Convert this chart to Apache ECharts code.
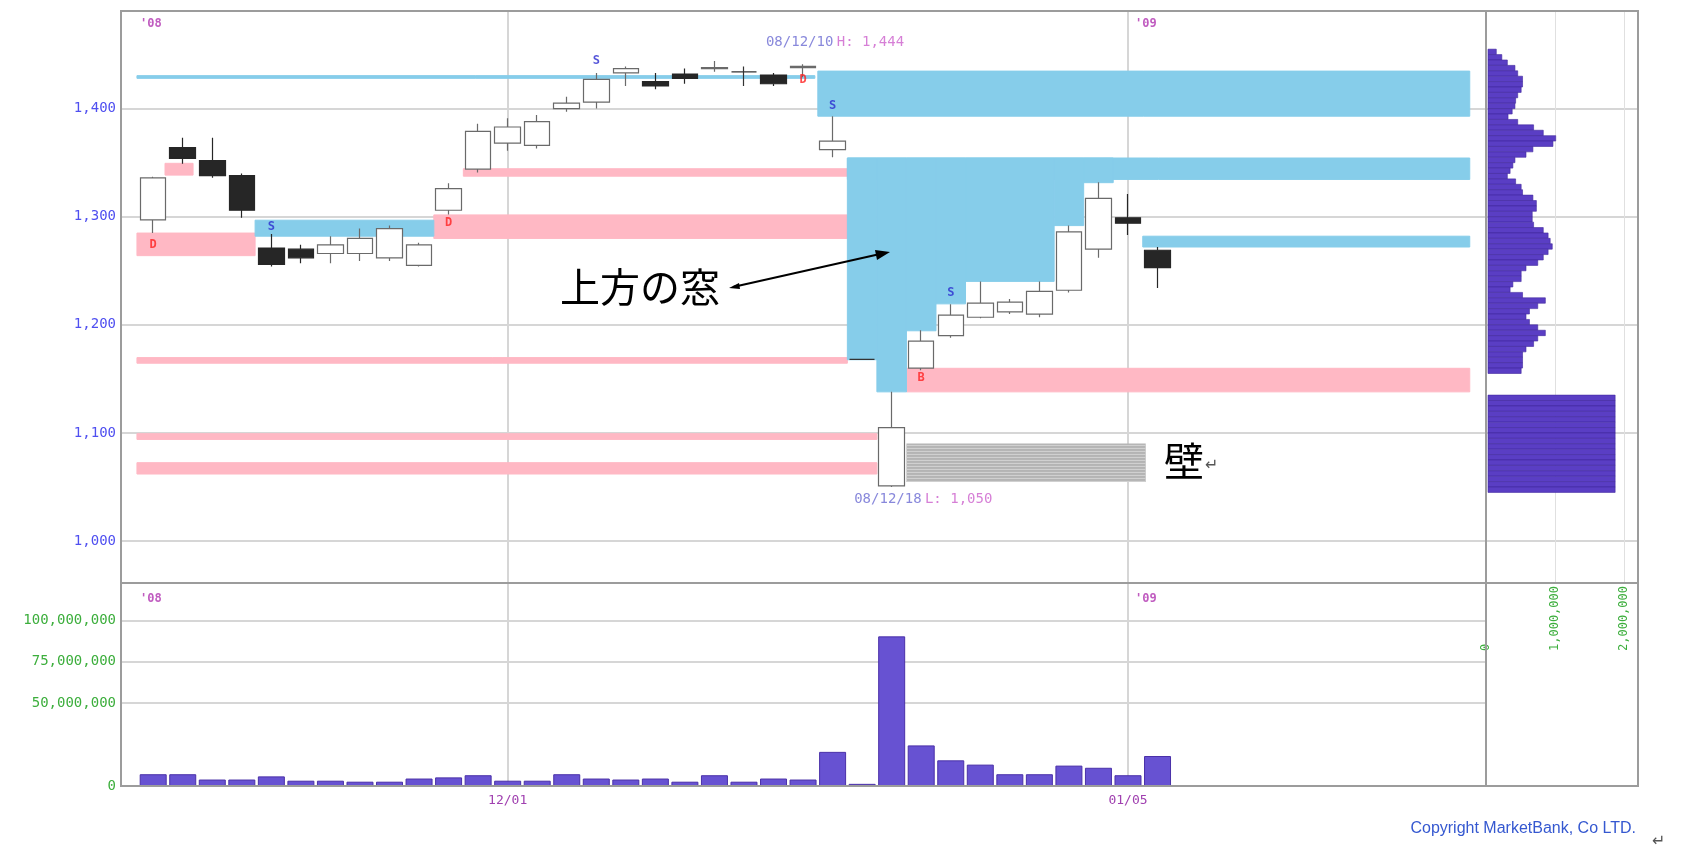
<!DOCTYPE html>
<html><head><meta charset="utf-8">
<script src="https://cdn.jsdelivr.net/npm/echarts@6/dist/echarts.min.js"></script>
<style>html,body{margin:0;padding:0;background:#fff}#c{width:1682px;height:851px}</style>
</head><body><div id="c"></div>
<script>
// ---------- data ----------
const dates = ['11/12','11/13','11/14','11/17','11/18','11/19','11/20','11/21','11/25','11/26','11/27','11/28',
  '12/01','12/02','12/03','12/04','12/05','12/08','12/09','12/10','12/11','12/12','12/15','12/16','12/17','12/18',
  '12/19','12/22','12/24','12/25','12/26','12/29','12/30','01/05','01/06'];
const opens  = [1297,1364,1352,1338,1271,1270,1266,1266,1262,1255,1306,1344,1368,1366,1400,1406,1433,1425,1432,1437,1434,1431,1438,1362,1168,1051,1160,1190,1207,1212,1210,1232,1270,1299,1269];
const closes = [1336,1354,1338,1306,1256,1262,1274,1280,1289,1274,1326,1379,1383,1388,1405,1427,1437,1421,1428,1438,1434,1423,1439,1370,1168,1105,1185,1209,1220,1221,1231,1286,1317,1294,1253];
const lows   = [1285,1349,1336,1299,1254,1257,1257,1259,1259,1254,1302,1341,1361,1363,1397,1400,1421,1418,1423,1434,1421,1421,1429,1355,1168,1050,1158,1188,1206,1210,1207,1230,1262,1283,1234];
const highs  = [1337,1373,1373,1340,1284,1274,1282,1289,1292,1276,1331,1386,1391,1394,1411,1433,1439,1433,1437,1444,1439,1433,1441,1393,1168,1138,1195,1219,1240,1224,1240,1292,1332,1321,1272];
const volumes = [7100000,7100000,3900000,3900000,5800000,3200000,3200000,2600000,2600000,4500000,5200000,6500000,
  3200000,3200000,7100000,4500000,3900000,4500000,2600000,6500000,2600000,4500000,3900000,20600000,1300000,90300000,
  24500000,15500000,12900000,7100000,7100000,12300000,11000000,6500000,18100000];

// zones: [fromIndex, toIndex, upperPrice, lowerPrice]
const gapUpZones = [
  [-0.55,22.4,1430.5,1428],
  [22.5,44.57,1434.7,1393],
  [3.45,9.5,1296.8,1282],
  [23.5,44.57,1354.3,1334.5],
  [23.5,24.5,1354.3,1167.7],
  [24.5,25.5,1354.3,1138],
  [25.5,26.5,1354.3,1194.5],
  [26.5,27.5,1354.3,1219.4],
  [27.5,30.5,1354.3,1240.2],
  [30.5,31.5,1354.3,1291.8],
  [31.5,32.5,1354.3,1331.5],
  [33.5,44.57,1282,1272]
];
const gapDownZones = [
  [-0.55,3.45,1284.9,1264],
  [0.4,1.35,1349.4,1338.5],
  [9.5,23.5,1301.7,1279.9],
  [10.5,23.5,1344.4,1337.5],
  [-0.55,23.5,1169.7,1164.5],
  [-0.55,24.5,1099.3,1094],
  [-0.55,24.5,1072.5,1062],
  [25.5,44.57,1159.8,1138]
];
const wallZone = [[25.5,33.6,1090.3,1054.6]];

const signalIdx   = [4,15,23,27,0,10,22,26];
const signalPrice = [1291,1444,1403,1230,1274,1294,1427,1151];
const signalText  = ['S','S','S','S','D','D','D','B'];

const profileLow = [1450,1445,1440,1435,1430,1425,1420,1415,1410,1405,1400,1395,1390,1385,1380,1375,1370,1365,1360,1355,
  1350,1345,1340,1335,1330,1325,1320,1315,1310,1305,1300,1295,1290,1285,1280,1275,1270,1265,1260,1255,
  1250,1245,1240,1235,1230,1225,1220,1215,1210,1205,1200,1195,1190,1185,1180,1175,1170,1165,1160,1155,
  1130,1125,1120,1115,1110,1105,1100,1095,1090,1085,1080,1075,1070,1065,1060,1055,1050,1045];
const profileVol = [120000,200000,280000,390000,430000,500000,500000,480000,430000,400000,
  390000,350000,290000,430000,660000,800000,980000,940000,650000,550000,
  390000,360000,320000,280000,400000,480000,500000,650000,700000,700000,
  640000,640000,660000,800000,870000,900000,930000,870000,800000,720000,
  550000,480000,480000,360000,320000,500000,830000,720000,600000,550000,
  600000,720000,830000,720000,660000,550000,500000,500000,500000,480000,
  1840000,1840000,1840000,1840000,1840000,1840000,1840000,1840000,1840000,1840000,1840000,1840000,1840000,1840000,1840000,1840000,1840000,1840000];

const priceTicks = [1000,1100,1200,1300,1400];
const volumeTicks = [0,50000000,75000000,100000000];
const profileTicks = [0,1000000,2000000];
const dateTickIdx = [12,33];

// ---------- chart ----------
const fmt = v => Math.round(v).toString().replace(/\B(?=(\d{3})+(?!\d))/g, ',');
const mono = 'DejaVu Sans Mono';
const iMin = -1.09, iMax = 45.12, pMin = 961.2, pMax = 1490.3;
const gridLine = {show:true, lineStyle:{color:'#d6d6d6', width:2}};

function zoneSeries(zones, fill, z) {
  return {type:'custom', xAxisIndex:0, yAxisIndex:0, z:z, silent:true,
    data: zones, encode:{x:[0,1], y:[2,3]},
    renderItem:(params, api) => {
      const a = api.coord([api.value(0), api.value(2)]);
      const b = api.coord([api.value(1), api.value(3)]);
      return {type:'rect', shape:{x:a[0], y:a[1], width:b[0]-a[0], height:b[1]-a[1]},
        style:{fill:fill, stroke:fill, lineWidth:1}};
    }};
}

const chart = echarts.init(document.getElementById('c'));
const idx = dates.map((d,i)=>i);

chart.setOption({
  animation:false,
  backgroundColor:'#fff',
  grid:[
    {left:121, top:11, width:1365, height:572},
    {left:121, top:583, width:1365, height:203},
    {left:1486, top:11, width:152, height:572}
  ],
  xAxis:[
    {type:'value', gridIndex:0, min:iMin, max:iMax, axisLine:{show:false},
     axisTick:{show:false, customValues:dateTickIdx}, axisLabel:{show:false}, splitLine:gridLine},
    {type:'value', gridIndex:1, min:iMin, max:iMax, axisLine:{show:false},
     axisTick:{show:false, customValues:dateTickIdx},
     axisLabel:{show:true, customValues:dateTickIdx, formatter:v=>dates[Math.round(v)], color:'#a040b0',
       fontFamily:mono, fontSize:13, margin:8},
     splitLine:gridLine},
    {type:'value', gridIndex:2, min:0, max:2200000, axisLine:{show:false},
     axisTick:{show:false, customValues:[1000000,2000000]},
     axisLabel:{show:true, customValues:profileTicks, formatter:v=>fmt(v), rotate:90, align:'left',
       verticalAlign:'middle', margin:68, color:'#3cae3c', fontFamily:mono, fontSize:12},
     splitLine:{show:true, lineStyle:{color:'#e0e0e0', width:1}}}
  ],
  yAxis:[
    {type:'value', gridIndex:0, min:pMin, max:pMax, axisLine:{show:false},
     axisTick:{show:false, customValues:priceTicks},
     axisLabel:{show:true, customValues:priceTicks, formatter:v=>fmt(v), color:'#4f4ff0', fontFamily:mono, fontSize:14, margin:5},
     splitLine:gridLine},
    {type:'value', gridIndex:1, min:0, max:122500000, axisLine:{show:false},
     axisTick:{show:false, customValues:volumeTicks},
     axisLabel:{show:true, customValues:volumeTicks, formatter:v=>fmt(v), color:'#3cae3c', fontFamily:mono, fontSize:14, margin:5},
     splitLine:gridLine},
    {type:'value', gridIndex:2, min:pMin, max:pMax, axisLine:{show:false},
     axisTick:{show:false, customValues:priceTicks}, axisLabel:{show:false}, splitLine:gridLine}
  ],
  series:[
    zoneSeries(gapDownZones, '#ffb8c4', 1),
    zoneSeries(gapUpZones, '#86cdea', 2),
    {type:'custom', xAxisIndex:0, yAxisIndex:0, z:2, silent:true, data:wallZone, encode:{x:[0,1], y:[2,3]},
     renderItem:(params, api) => {
       const a = api.coord([api.value(0), api.value(2)]);
       const b = api.coord([api.value(1), api.value(3)]);
       const kids = [{type:'rect', shape:{x:a[0], y:a[1], width:b[0]-a[0], height:b[1]-a[1]}, style:{fill:'#b4b4b4'}}];
       for (let y = a[1] + 2; y < b[1]; y += 3) {
         kids.push({type:'line', shape:{x1:a[0], y1:y, x2:b[0], y2:y}, style:{stroke:'#d2d2d2', lineWidth:1}});
       }
       return {type:'group', children:kids};
     }},
    {type:'candlestick', xAxisIndex:0, yAxisIndex:0, z:5,
     data: idx.map(i=>[i, opens[i], closes[i], lows[i], highs[i]]), encode:{x:0, y:[1,2,3,4]},
     barWidth:26,
     itemStyle:{color:'#ffffff', color0:'#262626', borderColor:'#6a6a6a', borderColor0:'#262626', borderColorDoji:'#333', borderWidth:1.2}},
    {type:'bar', xAxisIndex:1, yAxisIndex:1, z:5, barWidth:27,
     data: idx.map(i=>[i, volumes[i]]),
     itemStyle:{color:'#6752d2', borderColor:'#4a30a8', borderWidth:1}},
    {type:'custom', xAxisIndex:2, yAxisIndex:2, z:5, silent:true,
     data: profileLow.map((p,k)=>[p, p+5, profileVol[k]]), encode:{x:2, y:[0,1]},
     renderItem:(params, api) => {
       const a = api.coord([0, api.value(1)]);
       const b = api.coord([api.value(2), api.value(0)]);
       return {type:'rect', shape:{x:a[0]+2, y:a[1], width:b[0]-a[0], height:b[1]-a[1]},
         style:{fill:'#5a3ec4', stroke:'#42289e', lineWidth:0.6}};
     }},
    {type:'scatter', xAxisIndex:0, yAxisIndex:0, z:8, symbolSize:1, itemStyle:{color:'transparent'},
     data: signalIdx.map((x,k)=>({value:[x, signalPrice[k]],
       label:{formatter:signalText[k], color: signalText[k]==='S' ? '#2b2bd0' : '#ff2020'}})),
     label:{show:true, position:'inside', fontFamily:mono, fontWeight:'bold', fontSize:12}},
    {type:'scatter', xAxisIndex:0, yAxisIndex:0, z:8, symbolSize:1, itemStyle:{color:'transparent'},
     data:[
       {value:[19, highs[19]], label:{position:[52,-18], formatter:'{d|08/12/' + dates[19].slice(3) + '} {v|H: ' + fmt(highs[19]) + '}'}},
       {value:[25, lows[25]], label:{position:[-37,13], formatter:'{d|08/12/' + dates[25].slice(3) + '} {v|L: ' + fmt(lows[25]) + '}'}}
     ],
     label:{show:true, align:'left', verticalAlign:'middle',
       rich:{d:{color:'#6a6ad2', fontFamily:mono, fontSize:14}, v:{color:'#cc5fcc', fontFamily:mono, fontSize:14}}}}
  ],
  graphic:[
    {type:'rect', shape:{x:121, y:11, width:1517, height:775}, style:{fill:'none', stroke:'#9c9c9c', lineWidth:2}, z:100},
    {type:'line', shape:{x1:1486, y1:11, x2:1486, y2:786}, style:{stroke:'#9c9c9c', lineWidth:2}, z:100},
    {type:'line', shape:{x1:121, y1:583, x2:1638, y2:583}, style:{stroke:'#9c9c9c', lineWidth:2}, z:100},
    {type:'text', x:140, y:24, style:{text:"'08", fill:'#c05cc0', font:'bold 12px "DejaVu Sans Mono"', verticalAlign:'middle'}, z:100},
    {type:'text', x:1135, y:24, style:{text:"'09", fill:'#c05cc0', font:'bold 12px "DejaVu Sans Mono"', verticalAlign:'middle'}, z:100},
    {type:'text', x:140, y:599, style:{text:"'08", fill:'#c05cc0', font:'bold 12px "DejaVu Sans Mono"', verticalAlign:'middle'}, z:100},
    {type:'text', x:1135, y:599, style:{text:"'09", fill:'#c05cc0', font:'bold 12px "DejaVu Sans Mono"', verticalAlign:'middle'}, z:100},
    {type:'text', x:560, y:287, style:{text:'上方の窓', fill:'#000', font:'40px "Noto Sans CJK JP"', verticalAlign:'middle'}, z:100},
    {type:'line', shape:{x1:733, y1:287, x2:880, y2:254}, style:{stroke:'#000', lineWidth:2}, z:100},
    {type:'polygon', shape:{points:[[890,252],[877,260],[875,250]]}, style:{fill:'#000'}, z:100},
    {type:'polygon', shape:{points:[[729,288],[739,283],[740,289]]}, style:{fill:'#000'}, z:100},
    {type:'text', x:1164, y:461, style:{text:'壁', fill:'#000', font:'40px "Noto Sans CJK JP"', verticalAlign:'middle'}, z:100},
    {type:'text', x:1205, y:466, style:{text:'↵', fill:'#555', font:'16px "DejaVu Sans"', verticalAlign:'middle'}, z:100},
    {type:'text', x:1636, y:829, style:{text:'Copyright MarketBank, Co LTD.', fill:'#3558d0', font:'16px "Liberation Sans"', align:'right', verticalAlign:'middle'}, z:100},
    {type:'text', x:1652, y:842, style:{text:'↵', fill:'#555', font:'16px "DejaVu Sans"', verticalAlign:'middle'}, z:100}
  ]
});
</script>
</body></html>
